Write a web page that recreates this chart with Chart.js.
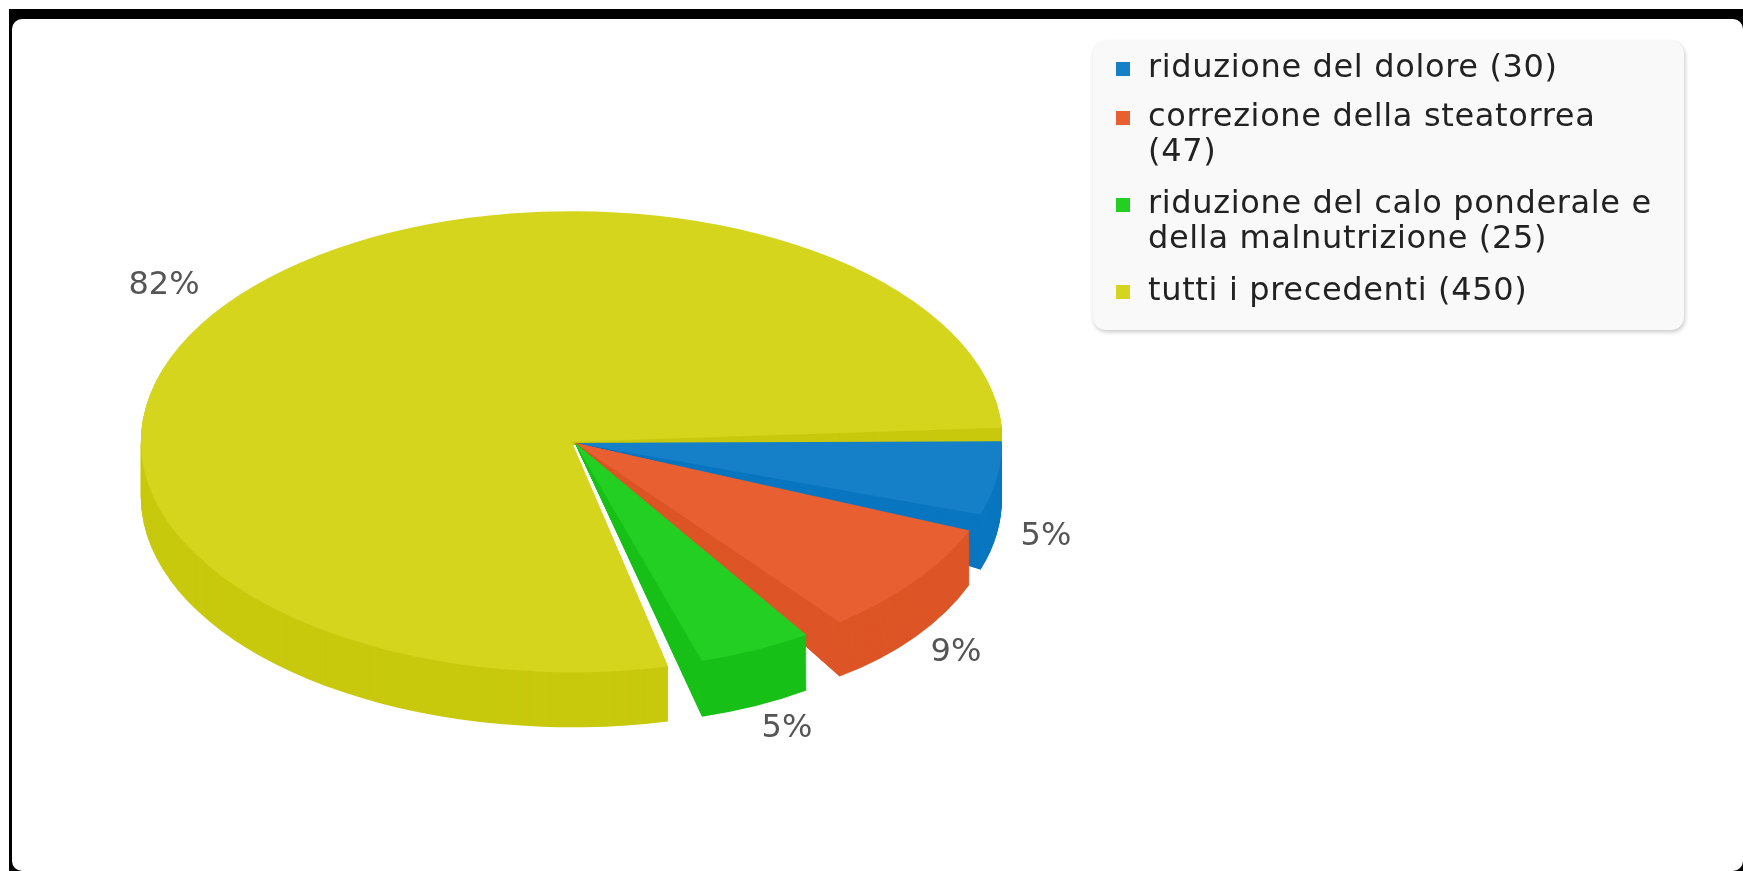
<!DOCTYPE html>
<html lang="it">
    <head>
        <meta charset="UTF-8">
        <title>Obiettivi della terapia</title>
        <style>
            html, body {
                margin: 0;
                height: 100%;
                background: #ffffff;
                overflow: hidden;
            }
            .frame {
                position: absolute;
                left: 9px;
                top: 9px;
                right: 0;
                bottom: 0;
                background: #000000;
            }
            .card {
                position: absolute;
                left: 3px;
                top: 10px;
                right: 0;
                bottom: 0;
                background: #ffffff;
                border-radius: 10px;
            }
            canvas {
                position: absolute;
                left: 0;
                top: 0;
                filter: blur(0.5px);
            }
        </style>
    </head>

    <body>
        <div class="frame"><div class="card"></div></div>
        <canvas id="pie" width="1743" height="871"></canvas>

        <script src="https://cdn.jsdelivr.net/npm/chart.js"></script>
        <script>
            // la fetta grande viene prima: e' quella piu' indietro nel disegno
            const categories = ['tutti i precedenti', 'riduzione del dolore', 'correzione della steatorrea', 'riduzione del calo ponderale e della malnutrizione'];
            const values = [450, 30, 47, 25];
            const legendOrder = [1, 2, 3, 0];

            const topColors = ['#d4d51c', '#1580c8', '#e86032', '#22cf22'];
            const wallColors = ['#c8c90e', '#0a76c0', '#dd5526', '#18c018'];
            const sliceOffsets = [16, 0, 0, 0];
            const percentPos = [[164, 286], [1046, 537], [956, 653], [787, 729]];
            // la prospettiva dell'originale sposta un po' gli angoli (gradi)
            const angleTurn = [-0.3, -3, 0.4, 5];

            const squash = 0.535;
            const depth = 55;

            // shift: quanto scende il bordo esterno. Le fette piccole hanno il fianco
            // che si stringe fino a zero verso il centro, quella grande no
            function drawSlice(ctx, arc, i, color, shift, tapered) {
                const piece = Object.create(arc);
                const turn = angleTurn[i] * Math.PI / 180;
                piece.startAngle = arc.startAngle + turn;
                piece.endAngle = arc.endAngle + turn;
                piece.options = { ...arc.options, backgroundColor: color, borderColor: color };
                const mid = (piece.startAngle + piece.endAngle) / 2;
                const b = tapered ? shift * Math.cos(mid) / arc.outerRadius : 0;
                const d = squash + (tapered ? shift * Math.sin(mid) / arc.outerRadius : 0);
                const f = arc.y - d * arc.y - b * arc.x + (tapered ? 0 : shift);
                ctx.save();
                ctx.transform(1, b, 0, d, 0, f);
                Chart.ArcElement.prototype.draw.call(piece, ctx);
                ctx.restore();
            }

            const pie3d = {
                id: 'pie3d',
                beforeDatasetsDraw(chart) {
                    const ctx = chart.ctx;
                    chart.getDatasetMeta(0).data.forEach((arc, i) => {
                        ctx.save();
                        if (i === 0) {
                            // niente fianco della fetta grande sotto il centro
                            ctx.beginPath();
                            ctx.rect(0, 0, chart.width, chart.height);
                            ctx.rect(arc.x - 5, arc.y + 2, 220, 110);
                            ctx.clip('evenodd');
                        }
                        for (let s = depth; s > 0; s--) {
                            drawSlice(ctx, arc, i, wallColors[i], s, i > 0);
                        }
                        ctx.restore();
                        drawSlice(ctx, arc, i, topColors[i], 0, false);
                    });
                    return false;
                },
                afterDraw(chart) {
                    const ctx = chart.ctx;
                    const total = values.reduce((a, b) => a + b, 0);
                    ctx.save();
                    ctx.font = '32px "DejaVu Sans"';
                    ctx.fillStyle = '#555555';
                    ctx.textAlign = 'center';
                    ctx.textBaseline = 'middle';
                    values.forEach((v, i) => {
                        ctx.fillText(Math.round(v / total * 100) + '%', percentPos[i][0], percentPos[i][1]);
                    });
                    ctx.restore();
                }
            };

            const sideLegend = {
                id: 'sideLegend',
                afterDraw(chart) {
                    const ctx = chart.ctx;
                    const left = 1093, top = 41, width = 591, height = 289;
                    ctx.save();
                    ctx.shadowColor = 'rgba(0, 0, 0, 0.22)';
                    ctx.shadowBlur = 4;
                    ctx.shadowOffsetX = 1;
                    ctx.shadowOffsetY = 2;
                    ctx.fillStyle = '#f9f9f9';
                    ctx.beginPath();
                    ctx.roundRect(left, top, width, height, 13);
                    ctx.fill();
                    ctx.restore();

                    ctx.save();
                    ctx.font = '32px "DejaVu Sans"';
                    ctx.letterSpacing = '0.65px';
                    ctx.textBaseline = 'middle';
                    let y = 69;
                    legendOrder.forEach((i) => {
                        const words = (categories[i] + ' (' + values[i] + ')').split(' ');
                        const lines = [];
                        let line = '';
                        words.forEach((w) => {
                            const next = line ? line + ' ' + w : w;
                            if (ctx.measureText(next).width > 510 && line) {
                                lines.push(line);
                                line = w;
                            } else {
                                line = next;
                            }
                        });
                        lines.push(line);

                        ctx.fillStyle = topColors[i];
                        ctx.fillRect(1116, y - 7, 14, 14);
                        ctx.fillStyle = '#222222';
                        lines.forEach((l, n) => {
                            ctx.fillText(l, 1148, y + n * 34.5);
                        });
                        y += lines.length * 34.5 + (lines.length > 1 ? 18 : 14.5);
                    });
                    ctx.restore();
                }
            };

            new Chart(document.getElementById('pie'), {
                type: 'pie',
                data: {
                    labels: categories,
                    datasets: [{
                        data: values,
                        backgroundColor: topColors,
                        borderWidth: 0,
                        offset: sliceOffsets,
                        spacing: 16
                    }]
                },
                options: {
                    responsive: false,
                    animation: false,
                    rotation: 162,
                    circumference: 356,
                    radius: 419,
                    layout: { padding: { left: 0, right: 593, top: 15, bottom: 0 } },
                    plugins: {
                        legend: { display: false },
                        tooltip: { enabled: false }
                    }
                },
                plugins: [pie3d, sideLegend]
            });
        </script>
    </body>
</html>
